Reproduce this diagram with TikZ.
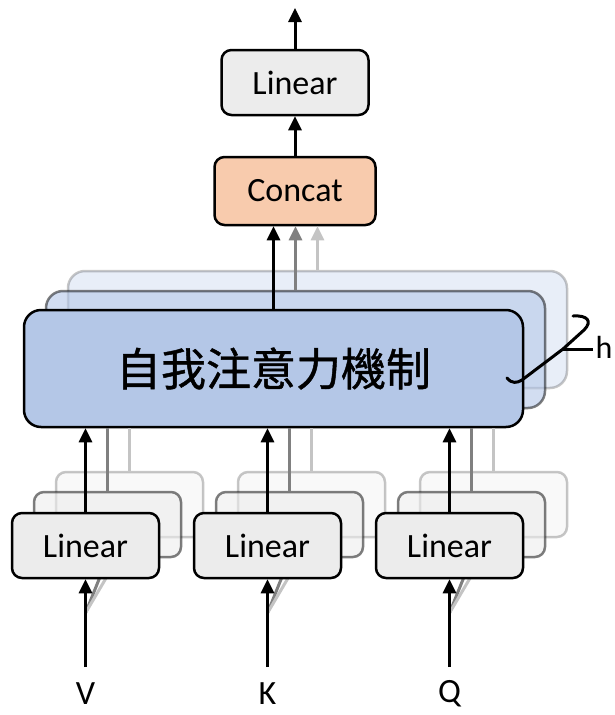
\documentclass[tikz,border=0pt]{standalone}
\usepackage{fontspec}
\setmainfont{Carlito}
\newfontfamily\cjk[FakeBold=1]{Noto Sans CJK TC}
\usetikzlibrary{arrows.meta,positioning,calc}
\definecolor{attblue}{RGB}{180,199,231}
\definecolor{linfill}{RGB}{236,236,236}
\definecolor{catorange}{RGB}{248,203,173}
\definecolor{midgray}{RGB}{128,128,128}
\definecolor{softgray}{RGB}{196,196,196}

\tikzset{
  linbox/.style={rectangle, rounded corners=10pt, draw=black, line width=2.5pt, fill=linfill, minimum width=147pt, minimum height=65pt},
  attbox/.style={rectangle, rounded corners=17pt, draw=black, line width=2.5pt, fill=attblue, minimum width=499pt, minimum height=117pt},
  shadowA/.style={draw opacity=0.5, fill opacity=0.6},
  shadowB/.style={draw opacity=0.22, fill opacity=0.3},
  arr/.style={-{Triangle[width=13pt,length=14pt]}, line width=3pt},
  feed/.style={line width=3pt}
}

\begin{document}
\begin{tikzpicture}[x=1pt, y=-1pt, font=\fontsize{34}{40}\selectfont]
    \useasboundingbox (0,0) rectangle (614,715);

    % Attention heads
    \node[attbox, shadowB] (att3) at (317.5,329.5) {};
    \node[attbox, shadowA] (att2) at (295.5,349.5) {};
    \node[attbox] (att) at (273.5,368.5) {\raisebox{-5pt}{\cjk\fontsize{45}{50}\selectfont 自我注意力機制}};

    % Concat and output
    \node[linbox, fill=catorange, minimum width=161pt, minimum height=68pt] (concat) at (295,191) {Concat};
    \node[linbox] (out) at (295,82.5) {Linear};
    \coordinate (top) at (295,8);
    \draw[arr] (out.north) -- (top);
    \draw[arr] (concat.north) -- (out.south);
    \draw[arr] (att.north) -- (att.north |- concat.south);
    \draw[arr, midgray] (att2.north) -- (att2.north |- concat.south);
    \draw[arr, softgray] (att3.north) -- (att3.north |- concat.south);

    % h heads
    \draw[line width=3pt, line cap=round] (507,378) .. controls (512,384) and (517,383) .. (522,380) -- (563,349) -- (584,330) .. controls (593,321) and (587,315) .. (573,316);
    \node[inner sep=0pt, font=\fontsize{32}{38}\selectfont] (h) at (604,347) {h};
    \draw[line width=3pt] (563,349) -- ([xshift=-2pt]h.west |- 0,349);

    % V, K, Q projections
    \foreach \x/\lab in {85.5/V,267.5/K,449.5/Q} {
        \node[linbox, shadowB] (\lab3) at (\x+44,504.5) {};
        \node[linbox, shadowA] (\lab2) at (\x+22,524.5) {};
        \coordinate (br\lab) at (\x,613);
        \draw[feed, midgray] (br\lab) -- (\lab2.south);
        \draw[feed, softgray] (br\lab) -- (\lab3.south);
        \draw[feed, midgray] (\lab2.north) -- (\lab2.north |- att.south);
        \draw[feed, softgray] (\lab3.north) -- (\lab3.north |- att.south);
        \node[linbox] (lin\lab) at (\x,545.5) {Linear};
        \node[inner sep=0pt] (in\lab) at (\x,694) {\lab};
        \coordinate (src\lab) at (\x,667);
        \draw[arr] (src\lab) -- (lin\lab.south);
        \draw[arr] (lin\lab.north) -- (lin\lab.north |- att.south);
    }
\end{tikzpicture}
\end{document}
